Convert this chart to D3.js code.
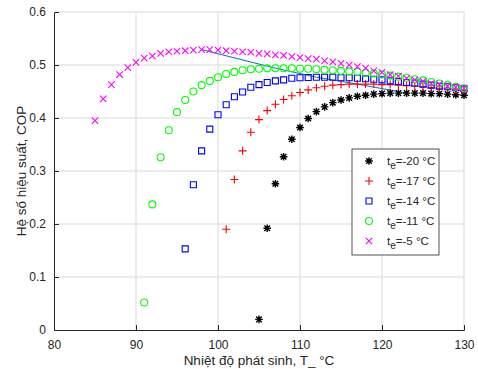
<!DOCTYPE html>
<html>
<head>
<meta charset="utf-8">
<script src="https://cdn.jsdelivr.net/npm/d3@7"></script>
<style>
  body { margin: 0; background: #fff; }
  text { font-family: "Liberation Sans", Arial, sans-serif; fill: #262626; }
</style>
</head>
<body>
<div id="chart"></div>
<script>
// COP vs generator temperature, one series per evaporator temperature
var xTicks = [80, 90, 100, 110, 120, 130];
var yTicks = [0, 0.1, 0.2, 0.3, 0.4, 0.5, 0.6];

var te20x = d3.range(105, 131);
var te20y = [0.02, 0.192, 0.276, 0.327, 0.36, 0.382, 0.399, 0.412, 0.421, 0.429, 0.434, 0.438, 0.441,
             0.443, 0.445, 0.446, 0.447, 0.447, 0.447, 0.447, 0.447, 0.446, 0.446, 0.445, 0.444, 0.443];

var te17x = d3.range(101, 131);
var te17y = [0.19, 0.284, 0.338, 0.373, 0.397, 0.414, 0.426, 0.435, 0.442, 0.448, 0.453, 0.457, 0.46,
             0.462, 0.463, 0.464, 0.464, 0.464, 0.464, 0.463, 0.463, 0.462, 0.461, 0.46, 0.459, 0.457,
             0.456, 0.455, 0.453, 0.452];

var te14x = d3.range(96, 131);
var te14y = [0.153, 0.274, 0.338, 0.379, 0.406, 0.425, 0.44, 0.449, 0.458, 0.463, 0.467, 0.47, 0.472,
             0.475, 0.476, 0.4765, 0.477, 0.477, 0.477, 0.476, 0.476, 0.475, 0.474, 0.473, 0.472, 0.47,
             0.469, 0.467, 0.466, 0.464, 0.462, 0.46, 0.459, 0.457, 0.455];

var te11x = d3.range(91, 131);
var te11y = [0.052, 0.237, 0.326, 0.377, 0.411, 0.434, 0.45, 0.462, 0.47, 0.477, 0.483, 0.487, 0.49,
             0.492, 0.493, 0.494, 0.494, 0.494, 0.494, 0.493, 0.493, 0.492, 0.491, 0.49, 0.489, 0.488,
             0.487, 0.485, 0.484, 0.482, 0.48, 0.478, 0.476, 0.473, 0.471, 0.468, 0.465, 0.462, 0.459, 0.456];

var te5x = d3.range(85, 131);
var te5y = [0.395, 0.436, 0.463, 0.482, 0.495, 0.505, 0.513, 0.517, 0.522, 0.525, 0.526, 0.527, 0.528,
            0.529, 0.529, 0.528, 0.527, 0.526, 0.525, 0.524, 0.522, 0.521, 0.519, 0.518, 0.516, 0.514,
            0.512, 0.511, 0.508, 0.506, 0.503, 0.5, 0.497, 0.494, 0.489, 0.486, 0.482, 0.479, 0.475,
            0.472, 0.469, 0.465, 0.464, 0.46, 0.458, 0.456];

// line through the maximum of each curve
var peakX = [98, 107, 112, 117, 123];
var peakY = [0.529, 0.494, 0.477, 0.464, 0.447];

var seriesNames = ["-20", "-17", "-14", "-11", "-5"];
var seriesColors = ["#000000", "#ff0000", "#0000ff", "#00ff00", "#ff00ff"];
var seriesMarkers = ["asterisk", "plus", "square", "circle", "cross"];

var series = [
    { x: te20x, y: te20y },
    { x: te17x, y: te17y },
    { x: te14x, y: te14y },
    { x: te11x, y: te11y },
    { x: te5x, y: te5y }
].map(function (s, i) {
    return {
        name: seriesNames[i],
        color: seriesColors[i],
        marker: seriesMarkers[i],
        points: s.x.map(function (v, j) { return { x: v, y: s.y[j] }; })
    };
});

var W = 478, H = 369;
var margin = { top: 12, right: 14, bottom: 39, left: 54 };
var width = W - margin.left - margin.right;
var height = H - margin.top - margin.bottom;

var svg = d3.select("#chart").append("svg")
    .attr("width", W)
    .attr("height", H);

var g = svg.append("g")
    .attr("transform", "translate(" + margin.left + "," + margin.top + ")");

var x = d3.scaleLinear().domain([80, 130]).range([0, width]);
var y = d3.scaleLinear().domain([0, 0.6]).range([height, 0]);

// grid
g.append("g").selectAll("line.vg")
    .data(xTicks.slice(1))
    .enter().append("line")
    .attr("x1", function (d) { return x(d); })
    .attr("x2", function (d) { return x(d); })
    .attr("y1", 0).attr("y2", height)
    .attr("stroke", "#e6e6e6").attr("stroke-width", 1.5);

g.append("g").selectAll("line.hg")
    .data(yTicks.slice(1))
    .enter().append("line")
    .attr("x1", 0).attr("x2", width)
    .attr("y1", function (d) { return y(d); })
    .attr("y2", function (d) { return y(d); })
    .attr("stroke", "#e6e6e6").attr("stroke-width", 1.5);

// axes (ticks point inward)
var xAxis = g.append("g")
    .attr("transform", "translate(0," + height + ")")
    .call(d3.axisBottom(x).tickValues(xTicks).tickSize(-5).tickPadding(10).tickFormat(d3.format("d")));

var yAxis = g.append("g")
    .call(d3.axisLeft(y).tickValues(yTicks).tickSize(-5).tickPadding(8)
        .tickFormat(function (d) { return d === 0 ? "0" : d3.format(".1f")(d); }));

[xAxis, yAxis].forEach(function (ax) {
    ax.select(".domain").attr("stroke", "#262626").attr("stroke-width", 1);
    ax.selectAll(".tick line").attr("stroke", "#262626");
    ax.selectAll(".tick text").attr("fill", "#262626")
        .style("font-family", "'Liberation Sans', Arial, sans-serif").style("font-size", "12px");
});
// hide ticks at the corners like matlab
xAxis.selectAll(".tick line").filter(function (d) { return d === 80 || d === 130; }).remove();
yAxis.selectAll(".tick line").filter(function (d) { return d === 0 || d === 0.6; }).remove();

// marker paths
function markerPath(type) {
    if (type === "plus") return "M-4,0H4M0,-4V4";
    if (type === "cross") return "M-3.2,-3.2L3.2,3.2M-3.2,3.2L3.2,-3.2";
    if (type === "asterisk") return "M-3.8,0H3.8M0,-3.8V3.8M-2.8,-2.8L2.8,2.8M-2.8,2.8L2.8,-2.8";
    if (type === "square") return "M-3,-3H3V3H-3Z";
    return "M3.5,0A3.5,3.5 0 1,1 -3.5,0A3.5,3.5 0 1,1 3.5,0Z";
}

// peak line
g.append("path")
    .datum(peakX.map(function (v, i) { return [v, peakY[i]]; }))
    .attr("d", d3.line().x(function (d) { return x(d[0]); }).y(function (d) { return y(d[1]); }))
    .attr("fill", "none")
    .attr("stroke", "#0072bd")
    .attr("stroke-width", 1);

series.forEach(function (s) {
    g.append("g").selectAll("path")
        .data(s.points)
        .enter().append("path")
        .attr("transform", function (d) { return "translate(" + x(d.x) + "," + y(d.y) + ")"; })
        .attr("d", markerPath(s.marker))
        .attr("fill", "none")
        .attr("stroke", s.color)
        .attr("stroke-width", s.marker === "asterisk" ? 1.4 : 1.1);
});

// axis labels
g.append("text")
    .attr("x", width / 2)
    .attr("y", height + 35)
    .attr("text-anchor", "middle")
    .style("font-size", "13.5px")
    .text("Nhiệt độ phát sinh, T_ °C");

g.append("text")
    .attr("transform", "translate(" + (-28.5) + "," + (height / 2) + ") rotate(-90)")
    .attr("text-anchor", "middle")
    .style("font-size", "13.5px")
    .text("Hệ số hiệu suất, COP");

// legend
var lx = 352 - margin.left, ly = 149 - margin.top;
var legend = g.append("g").attr("transform", "translate(" + lx + "," + ly + ")");
legend.append("rect")
    .attr("width", 87).attr("height", 106)
    .attr("fill", "#fff").attr("stroke", "#262626").attr("stroke-width", 0.8);

series.forEach(function (s, i) {
    var row = legend.append("g").attr("transform", "translate(0," + (12 + i * 20) + ")");
    row.append("path")
        .attr("transform", "translate(17,0)")
        .attr("d", markerPath(s.marker))
        .attr("fill", "none")
        .attr("stroke", s.color)
        .attr("stroke-width", s.marker === "asterisk" ? 1.4 : 1.1);
    var t = row.append("text").attr("x", 35).attr("y", 4).style("font-size", "11.5px");
    t.append("tspan").text("t");
    t.append("tspan").attr("dy", 4).style("font-size", "10px").text("e");
    t.append("tspan").attr("dy", -4).text("=" + s.name + " °C");
});
</script>
</body>
</html>
